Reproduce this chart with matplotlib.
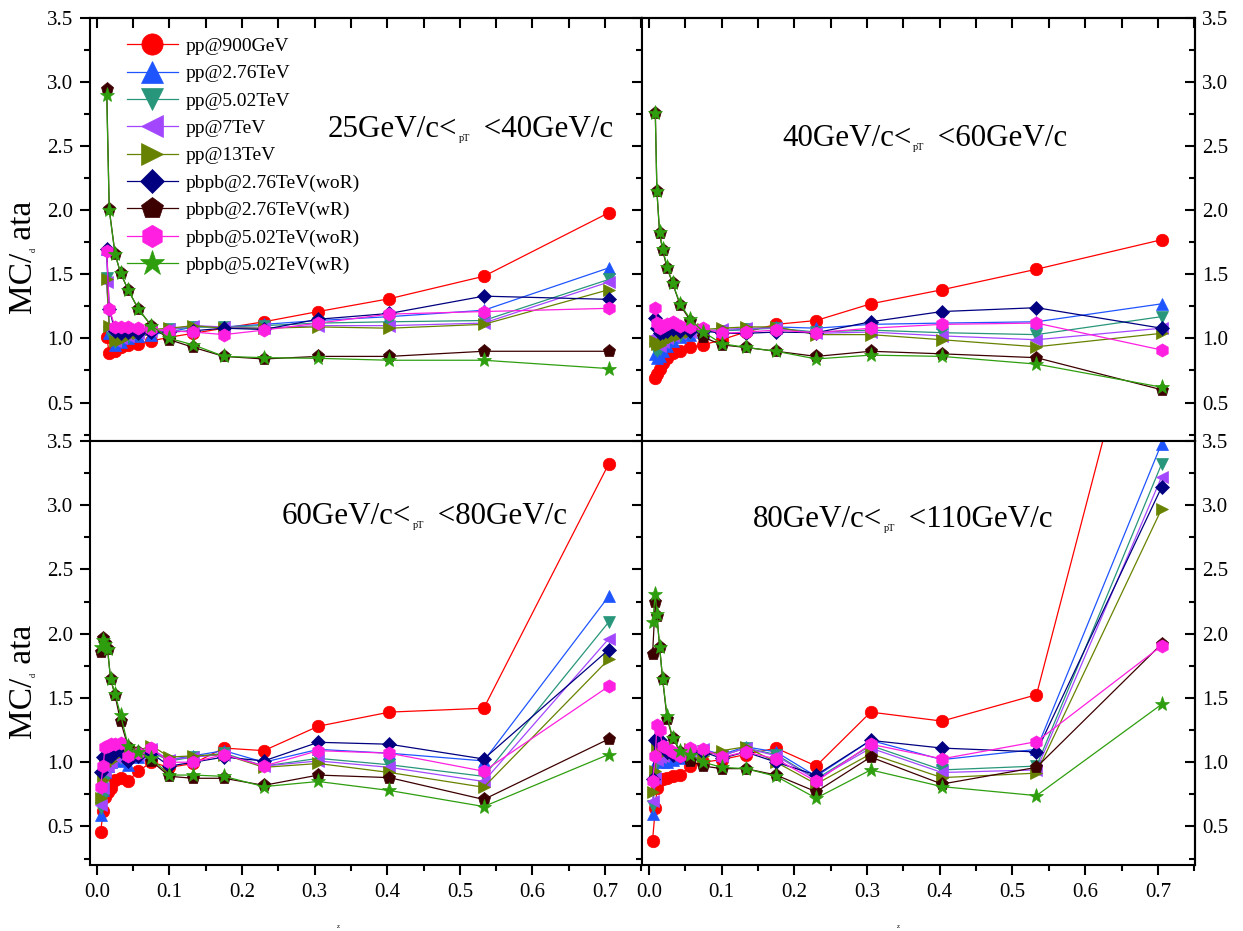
import matplotlib
matplotlib.use('Agg')
import matplotlib.pyplot as plt
from matplotlib.ticker import MultipleLocator, FormatStrFormatter, NullFormatter

plt.rcParams['font.family'] = ['Liberation Serif', 'DejaVu Serif']

W, H = 1243, 931

labels = ['pp@900GeV', 'pp@2.76TeV', 'pp@5.02TeV', 'pp@7TeV', 'pp@13TeV',
          'pbpb@2.76TeV(woR)', 'pbpb@2.76TeV(wR)', 'pbpb@5.02TeV(woR)', 'pbpb@5.02TeV(wR)']
colors = ['#FF0000', '#1F55FF', '#28967A', '#A347FF', '#678200',
          '#000080', '#3D0000', '#FF1FE0', '#2E9E0E']
markers = ['o', '^', 'v', '<', '>', 'D', 'p', 'h', '*']
msizes = [9, 9, 9, 9, 9, 7, 9.5, 9.5, 11]

# z bin centres
z_25_40 = [0.0135, 0.017, 0.025, 0.0326, 0.043, 0.057, 0.075, 0.1, 0.133,
           0.175, 0.23, 0.305, 0.403, 0.533, 0.705]
z_40_60 = [0.0088, 0.011, 0.0147, 0.0188, 0.025, 0.0326, 0.043, 0.057, 0.075,
           0.1, 0.133, 0.175, 0.23, 0.305, 0.403, 0.533, 0.705]
z_high = [0.005, 0.0088, 0.011, 0.0147, 0.0188, 0.025, 0.0326, 0.043, 0.057,
          0.075, 0.1, 0.133, 0.175, 0.23, 0.305, 0.403, 0.533, 0.705]

# MC/data, one row per sample (same order as labels)
ratio_25_40 = [
    [1.01, 0.89, 0.90, 0.93, 0.95, 0.96, 0.98, 1.01, 1.04, 1.08, 1.13, 1.21, 1.31, 1.485, 1.98],
    [1.70, 1.04, 0.95, 0.97, 1.00, 1.02, 1.03, 1.05, 1.09, 1.09, 1.11, 1.14, 1.17, 1.22, 1.55],
    [1.47, 1.05, 0.97, 0.99, 1.01, 1.03, 1.05, 1.07, 1.09, 1.09, 1.10, 1.12, 1.13, 1.14, 1.46],
    [1.44, 1.07, 0.98, 1.00, 1.02, 1.04, 1.06, 1.07, 1.10, 1.09, 1.08, 1.10, 1.10, 1.12, 1.44],
    [1.46, 1.10, 0.98, 0.99, 1.02, 1.04, 1.07, 1.08, 1.10, 1.08, 1.08, 1.09, 1.08, 1.11, 1.38],
    [1.70, 1.23, 1.06, 1.04, 1.05, 1.04, 1.05, 1.05, 1.06, 1.08, 1.07, 1.15, 1.195, 1.33, 1.305],
    [2.95, 2.01, 1.66, 1.51, 1.38, 1.23, 1.10, 0.99, 0.93, 0.86, 0.84, 0.86, 0.86, 0.90, 0.90],
    [1.68, 1.23, 1.09, 1.09, 1.09, 1.08, 1.07, 1.06, 1.05, 1.03, 1.065, 1.12, 1.19, 1.21, 1.235],
    [2.90, 2.00, 1.66, 1.51, 1.38, 1.23, 1.10, 1.00, 0.95, 0.86, 0.85, 0.845, 0.83, 0.83, 0.765],
]
ratio_40_60 = [
    [0.69, 0.72, 0.76, 0.805, 0.85, 0.89, 0.90, 0.93, 0.95, 0.99, 1.05, 1.11, 1.14, 1.27, 1.38, 1.54, 1.77],
    [0.88, 0.85, 0.86, 0.90, 0.94, 0.98, 1.01, 1.03, 1.05, 1.06, 1.07, 1.09, 1.08, 1.11, 1.12, 1.13, 1.27],
    [0.92, 0.90, 0.92, 0.95, 0.98, 1.00, 1.02, 1.04, 1.05, 1.06, 1.07, 1.08, 1.05, 1.065, 1.045, 1.03, 1.17],
    [1.02, 0.96, 0.94, 0.97, 1.00, 1.02, 1.04, 1.05, 1.06, 1.07, 1.08, 1.08, 1.04, 1.05, 1.02, 0.99, 1.08],
    [0.98, 0.96, 0.95, 0.97, 0.99, 1.01, 1.03, 1.05, 1.07, 1.08, 1.09, 1.09, 1.03, 1.03, 0.99, 0.935, 1.04],
    [1.16, 1.08, 1.04, 1.05, 1.06, 1.07, 1.06, 1.06, 1.06, 1.04, 1.04, 1.05, 1.045, 1.13, 1.21, 1.24, 1.08],
    [2.76, 2.15, 1.82, 1.69, 1.55, 1.43, 1.26, 1.14, 1.01, 0.95, 0.93, 0.90, 0.86, 0.90, 0.88, 0.85, 0.60],
    [1.24, 1.12, 1.08, 1.10, 1.11, 1.13, 1.10, 1.09, 1.08, 1.04, 1.05, 1.065, 1.045, 1.08, 1.11, 1.12, 0.91],
    [2.76, 2.15, 1.83, 1.70, 1.56, 1.43, 1.27, 1.15, 1.05, 0.96, 0.93, 0.90, 0.84, 0.87, 0.86, 0.80, 0.62],
]
ratio_60_80 = [
    [0.456, 0.62, 0.73, 0.77, 0.80, 0.86, 0.875, 0.855, 0.93, 1.00, 0.96, 0.99, 1.11, 1.09, 1.28, 1.39, 1.42, 3.32],
    [0.59, 0.78, 0.92, 0.97, 1.00, 1.02, 1.01, 0.98, 1.04, 1.08, 1.02, 1.05, 1.09, 1.00, 1.10, 1.07, 1.01, 2.29],
    [0.64, 0.72, 0.86, 0.93, 0.97, 1.01, 1.03, 1.01, 1.05, 1.08, 1.01, 1.04, 1.07, 0.97, 1.03, 0.98, 0.89, 2.09],
    [0.67, 0.80, 0.93, 0.97, 1.00, 1.04, 1.06, 1.04, 1.06, 1.10, 1.02, 1.04, 1.06, 0.97, 1.01, 0.96, 0.85, 1.96],
    [0.72, 0.86, 0.97, 0.99, 1.01, 1.05, 1.07, 1.08, 1.09, 1.13, 1.04, 1.05, 1.06, 0.96, 0.99, 0.92, 0.805, 1.80],
    [0.92, 1.04, 1.03, 1.04, 1.05, 1.08, 1.09, 1.01, 1.05, 1.07, 0.97, 1.00, 1.04, 1.01, 1.155, 1.14, 1.025, 1.875],
    [1.86, 1.97, 1.93, 1.88, 1.65, 1.52, 1.32, 1.12, 1.08, 1.01, 0.89, 0.875, 0.875, 0.82, 0.90, 0.88, 0.71, 1.18],
    [0.81, 0.97, 1.12, 1.13, 1.14, 1.14, 1.15, 1.05, 1.07, 1.11, 1.00, 1.00, 1.06, 0.97, 1.09, 1.07, 0.93, 1.59],
    [1.90, 1.95, 1.92, 1.88, 1.65, 1.53, 1.37, 1.13, 1.08, 1.03, 0.90, 0.90, 0.89, 0.81, 0.85, 0.78, 0.655, 1.06],
]
ratio_80_110 = [
    [0.39, 0.64, 0.80, 0.86, 0.87, 0.88, 0.89, 0.90, 0.97, 1.00, 1.02, 1.06, 1.11, 0.97, 1.39, 1.32, 1.525, 5.25],
    [0.60, 0.95, 1.02, 1.01, 1.00, 1.00, 1.02, 1.03, 1.07, 1.10, 1.06, 1.12, 1.08, 0.89, 1.17, 1.02, 1.10, 3.48],
    [0.66, 0.85, 1.00, 1.03, 1.04, 1.05, 1.05, 1.05, 1.07, 1.09, 1.05, 1.11, 1.06, 0.87, 1.13, 0.94, 0.97, 3.32],
    [0.70, 0.88, 1.02, 1.04, 1.05, 1.06, 1.06, 1.06, 1.08, 1.10, 1.05, 1.11, 1.05, 0.865, 1.11, 0.92, 0.94, 3.22],
    [0.77, 0.93, 1.11, 1.12, 1.10, 1.09, 1.07, 1.06, 1.10, 1.05, 1.09, 1.12, 1.00, 0.83, 1.065, 0.88, 0.915, 2.97],
    [0.87, 1.17, 1.19, 1.17, 1.12, 1.08, 1.06, 1.05, 1.09, 1.08, 1.03, 1.08, 1.00, 0.90, 1.17, 1.11, 1.08, 3.14],
    [1.84, 2.25, 2.14, 1.90, 1.65, 1.34, 1.19, 1.08, 1.01, 0.97, 0.95, 0.95, 0.90, 0.77, 1.04, 0.83, 0.96, 1.92],
    [0.85, 1.05, 1.29, 1.25, 1.13, 1.11, 1.08, 1.05, 1.11, 1.10, 1.04, 1.08, 1.026, 0.85, 1.14, 1.026, 1.16, 1.905],
    [2.09, 2.31, 2.15, 1.90, 1.65, 1.36, 1.19, 1.09, 1.06, 1.00, 0.96, 0.95, 0.89, 0.72, 0.94, 0.81, 0.74, 1.45],
]

pt_lo = ['25', '40', '60', '80']
pt_hi = ['40', '60', '80', '110']

fig = plt.figure(figsize=(W / 100, H / 100), dpi=100)

# panel edges in pixels
x_l, x_m, x_r = 90, 642, 1195
y_t, y_m, y_b = 18, 441, 865


def add_panel(x0, y0, x1, y1):
    return fig.add_axes([x0 / W, 1 - y1 / H, (x1 - x0) / W, (y1 - y0) / H])


axes = [add_panel(x_l, y_t, x_m, y_m), add_panel(x_m, y_t, x_r, y_m),
        add_panel(x_l, y_m, x_m, y_b), add_panel(x_m, y_m, x_r, y_b)]
zs = [z_25_40, z_40_60, z_high, z_high]
ratios = [ratio_25_40, ratio_40_60, ratio_60_80, ratio_80_110]
# where the pT range text sits (left edge, baseline) in pixels
text_pos = [(328, 137), (782, 146), (282, 524), (753, 527)]

tick_kw = dict(which='both', width=1.5, labelsize=15)


def style_locators(axis):
    if axis.axis_name == 'x':
        axis.set_major_locator(MultipleLocator(0.1))
        axis.set_minor_locator(MultipleLocator(0.05))
    else:
        axis.set_major_locator(MultipleLocator(0.5))
        axis.set_minor_locator(MultipleLocator(0.25))
    axis.set_major_formatter(FormatStrFormatter('%.1f'))


for i, ax in enumerate(axes):
    for j in range(len(labels)):
        ax.plot(zs[i], ratios[i][j], color=colors[j], marker=markers[j], ms=msizes[j],
                mec=colors[j], mew=0.5, lw=0.9, label=labels[j])
    ax.set_xlim(-0.0095, 0.751)
    ax.set_ylim(0.2, 3.5)
    style_locators(ax.xaxis)
    style_locators(ax.yaxis)
    for s in ax.spines.values():
        s.set_linewidth(1.5)
    ax.tick_params(**tick_kw)
    ax.tick_params(which='major', length=7)
    ax.tick_params(which='minor', length=4.5)
    ax.tick_params(axis='x', direction='out', top=False, bottom=True,
                   labelbottom=(i >= 2), pad=6)
    ax.tick_params(axis='y', direction='out', left=True, right=False,
                   labelleft=(i % 2 == 0), pad=5)

    if i % 2 == 1:
        sec = ax.secondary_yaxis('right')
        style_locators(sec.yaxis)
        sec.yaxis.offsetText.set_visible(False)
        sec.spines['right'].set_linewidth(1.5)
        sec.tick_params(**tick_kw)
        sec.tick_params(which='major', length=7, direction='in', pad=5)
        sec.tick_params(which='minor', length=4.5, direction='in')
    if i < 2:
        top = ax.secondary_xaxis('top')
        style_locators(top.xaxis)
        top.xaxis.set_major_formatter(NullFormatter())
        top.xaxis.offsetText.set_visible(False)
        top.spines['top'].set_linewidth(1.5)
        top.tick_params(which='both', width=1.5, direction='in', length=7)

    # pT range, with a tiny pT subscript
    tx, ty = text_pos[i]
    t1 = ax.text(tx / W, 1 - ty / H, pt_lo[i] + 'GeV/c<', transform=fig.transFigure,
                 fontsize=22.3, va='baseline', ha='left')
    t2 = ax.annotate('pT', xy=(1, 0), xycoords=t1, xytext=(1, 1), textcoords='offset points',
                     fontsize=7.5, va='bottom', ha='left', annotation_clip=False)
    ax.annotate(' <' + pt_hi[i] + 'GeV/c', xy=(1, 0), xycoords=(t2, t1),
                xytext=(4, 0), textcoords='offset points', fontsize=22.3,
                va='bottom', ha='left', annotation_clip=False)

axes[0].legend(loc='upper left', bbox_to_anchor=(0.067, 0.954), frameon=False,
               fontsize=14, markerscale=1.7, handlelength=2.6, handletextpad=0.4,
               labelspacing=0.5, borderpad=0, borderaxespad=0)

# y titles: "MC/" + small d + " ata"
for ax, y_bot in [(axes[0], 313), (axes[2], 738)]:
    a1 = ax.text(38 / W, 1 - y_bot / H, 'MC/', transform=fig.transFigure, fontsize=24,
                 rotation=90, ha='right', va='bottom')
    a2 = ax.annotate('d', xy=(1, 1), xycoords=a1, fontsize=6, rotation=90,
                     ha='right', va='bottom', annotation_clip=False)
    ax.annotate(' ata', xy=(1, 1), xycoords=(a1, a2), fontsize=24, rotation=90,
                ha='right', va='bottom', annotation_clip=False)

# tiny x titles
for xc in [338, 898]:
    fig.text(xc / W, 1 - 926 / H, 'z', fontsize=5, ha='center', va='center')

fig.savefig('out.png', dpi=100)
